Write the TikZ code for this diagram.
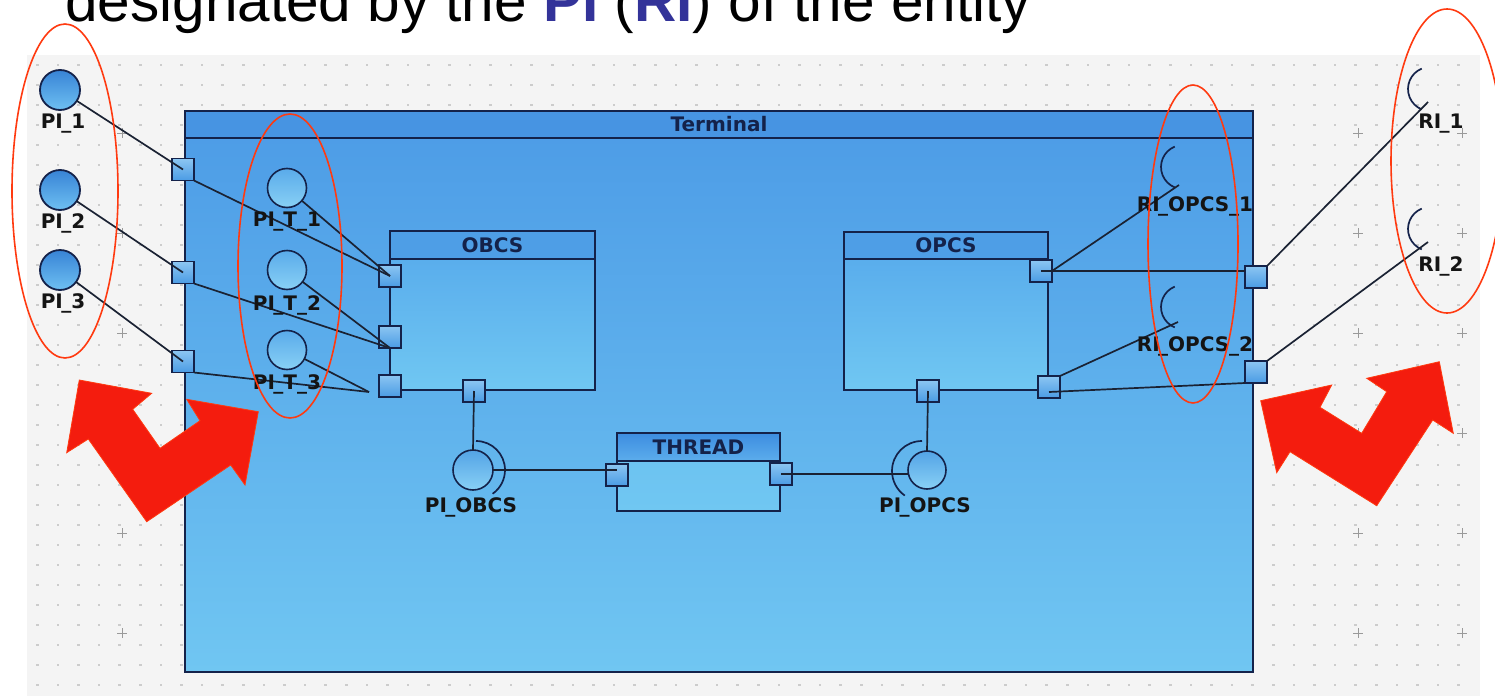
\documentclass[tikz,border=0pt]{standalone}
\usepackage{fontspec}
\setmainfont{DejaVu Sans}
\newfontfamily\titlefont{Liberation Sans}
\definecolor{panel}{HTML}{F4F4F4}
\definecolor{navy}{HTML}{14224A}
\definecolor{wirec}{HTML}{1A2233}
\definecolor{hdr}{HTML}{4794E2}
\definecolor{termtop}{HTML}{4C9BE6}
\definecolor{termbot}{HTML}{70C6F2}
\definecolor{boxhdr}{HTML}{4E9EE6}
\definecolor{boxtop}{HTML}{55A8EB}
\definecolor{boxbot}{HTML}{70C7F2}
\definecolor{thrtop}{HTML}{3D8DE0}
\definecolor{thrbot}{HTML}{5CADEC}
\definecolor{porttop}{HTML}{8CC6F2}
\definecolor{portbot}{HTML}{4A9BE4}
\definecolor{pltop}{HTML}{3884D6}
\definecolor{plbot}{HTML}{6EC0F2}
\definecolor{plttop}{HTML}{5AABEA}
\definecolor{pltbot}{HTML}{88D0F5}
\definecolor{redarrow}{HTML}{F41C0E}
\definecolor{redline}{HTML}{FF3A10}
\definecolor{piblue}{HTML}{333399}
\definecolor{dotc}{HTML}{CCCCCC}
\definecolor{plusc}{HTML}{9A9A9A}
\newcommand{\Iu}{I\kern-1.6pt\_}
\tikzset{
  lbl/.style={font=\fontsize{20pt}{21pt}\selectfont\bfseries, text=black!92, inner sep=0pt},
  hlbl/.style={font=\fontsize{20pt}{21pt}\selectfont\bfseries, text=navy, inner sep=0pt},
  port/.style={draw=navy, line width=1.6pt, minimum size=22pt, inner sep=0pt, outer sep=0pt, top color=porttop, bottom color=portbot},
  plc/.style={circle, draw=navy, line width=1.8pt, minimum size=40pt, inner sep=0pt, outer sep=0pt, top color=pltop, bottom color=plbot},
  pltc/.style={circle, draw=navy, line width=1.6pt, minimum size=39pt, inner sep=0pt, outer sep=0pt, top color=plttop, bottom color=pltbot},
  cbox/.style={draw=navy, line width=1.8pt, inner sep=0pt, outer sep=0pt, top color=boxtop, bottom color=boxbot},
  wire/.style={draw=wirec, line width=1.7pt},
  iarc/.style={draw=navy, line width=1.7pt},
  redell/.style={draw=redline, line width=1.6pt},
  redarr/.style={fill=redarrow, draw=redline, line width=0.8pt, line join=miter},
}
\begin{document}
\begin{tikzpicture}[x=1pt,y=-1pt]
\clip (0,0) rectangle (1495,696);
\fill[white] (0,0) rectangle (1495,696);
% grid panel
\fill[panel] (27,55) rectangle (1480,696);
\foreach \i in {0,...,69} {
  \foreach \j in {0,...,31} {
    \fill[dotc] ({36+20.6*\i},{64+20*\j}) rectangle ++(2.6,1.5);
  }
}
\foreach \px in {122,1358,1462} {
  \foreach \py in {133,233,333,433,533,633} {
    \draw[plusc, line width=0.7pt] (\px-5,\py) -- (\px+5,\py) (\px,\py-5) -- (\px,\py+5);
  }
}
% Terminal
\node[cbox, top color=termtop, bottom color=termbot, minimum width=1068pt, minimum height=561pt] (terminal) at (719,391.5) {};
\filldraw[fill=hdr, draw=navy, line width=1.8pt] (terminal.north west) rectangle ([yshift=-27pt]terminal.north east);
\node[hlbl] (terminallbl) at ([yshift=-13.5pt]terminal.north) {Terminal};
% OBCS
\node[cbox, minimum width=205pt, minimum height=159pt] (obcs) at (492.5,310.5) {};
\filldraw[fill=boxhdr, draw=navy, line width=1.8pt] (obcs.north west) rectangle ([yshift=-28pt]obcs.north east);
\node[hlbl] (obcslbl) at ([yshift=-14pt]obcs.north) {OBCS};
% OPCS
\node[cbox, minimum width=204pt, minimum height=158pt] (opcs) at (946,311) {};
\filldraw[fill=boxhdr, draw=navy, line width=1.8pt] (opcs.north west) rectangle ([yshift=-27pt]opcs.north east);
\node[hlbl] (opcslbl) at ([yshift=-13.5pt]opcs.north) {OPCS};
% THREAD
\node[cbox, top color=boxbot!80!boxtop, bottom color=boxbot, minimum width=163pt, minimum height=78pt] (thread) at (698.5,472) {};
\shade[top color=thrtop, bottom color=thrbot] (thread.north west) rectangle ([yshift=-28pt]thread.north east);
\draw[navy, line width=1.8pt] (thread.north west) rectangle ([yshift=-28pt]thread.north east);
\node[hlbl] (threadlbl) at ([yshift=-14pt]thread.north) {THREAD};
% provided interfaces (left)
\node[plc] (pl1) at (60,90) {};
\node[plc] (pl2) at (60,190) {};
\node[plc] (pl3) at (60,270) {};
\node[pltc] (plt1) at (287,188) {};
\node[pltc] (plt2) at (287,270) {};
\node[pltc] (plt3) at (287,350) {};
% PI_OBCS and PI_OPCS
\node[pltc, minimum size=40pt, top color=plttop!80!pltop] (plobcs) at (473,470) {};
\node[pltc, minimum size=38pt, top color=plttop!80!pltop] (plopcs) at (927,470) {};
\coordinate (obring) at (476,470);
\coordinate (opring) at (922,471);
\draw[iarc] ([shift={(90:29pt)}]obring) arc[start angle=90, end angle=-55, radius=29pt];
\draw[iarc] ([shift={(90:30pt)}]opring) arc[start angle=90, end angle=235, radius=30pt];
% required interfaces
\coordinate (ro1c) at (1183,167);
\coordinate (ro2c) at (1183,307);
\coordinate (ri1c) at (1430,89);
\coordinate (ri2c) at (1430,229);
\foreach \c in {ro1c,ro2c,ri1c,ri2c} {
  \draw[iarc] ([shift={(112:22pt)}]\c) arc[start angle=112, end angle=248, radius=22pt];
}
\coordinate (ro1e) at (1179,185);
\coordinate (ro2e) at (1178,322);
\coordinate (ri1e) at (1428,102);
\coordinate (ri2e) at (1428,242);
\coordinate (j3) at (369,392);
% ports
\node[port] (tp1) at (183,169.5) {};
\node[port] (tp2) at (183,272.5) {};
\node[port] (tp3) at (183,361.5) {};
\node[port] (obp1) at (390,276) {};
\node[port] (obp2) at (390,337) {};
\node[port] (obp3) at (390,386) {};
\node[port] (obp4) at (474,391) {};
\node[port] (opp1) at (1041,271) {};
\node[port] (opp2) at (1049,387) {};
\node[port] (opp3) at (928,391) {};
\node[port] (trp1) at (1256,277) {};
\node[port] (trp2) at (1256,372) {};
\node[port] (thr1) at (617,475) {};
\node[port] (thr2) at (781,474) {};
% connectors
\draw[wire] (pl1) -- (tp1.center);
\draw[wire] (tp1.south east) -- (obp1.center);
\draw[wire] (pl2) -- (tp2.center);
\draw[wire] (tp2.south east) -- (obp2.south);
\draw[wire] (pl3) -- (tp3.center);
\draw[wire] (tp3.south east) -- (j3);
\draw[wire] (plt1) -- (obp1.center);
\draw[wire] (plt2) -- (obp2.south);
\draw[wire] (plt3) -- (j3);
\draw[wire] (obp4.center) -- (plobcs.north);
\draw[wire] (plobcs.east) -- (plobcs.east -| thr1.center);
\draw[wire] (opp3.center) -- (plopcs.north);
\draw[wire] (thr2.center) -- (thr2.center -| plopcs.west);
\draw[wire] (opp1.center) -- (opp1.center -| trp1.west);
\draw[wire] (opp1.east) -- (ro1e);
\draw[wire] (opp2.north east) -- (ro2e);
\draw[wire] ([yshift=-5pt]opp2.center) -- (trp2.south west);
\draw[wire] (trp1.north east) -- (ri1e);
\draw[wire] (trp2.north east) -- (ri2e);
% labels
\node[lbl] (pl1l) at (63,124) {P\Iu1};
\node[lbl] (pl2l) at (63,223) {P\Iu2};
\node[lbl] (pl3l) at (63,303) {P\Iu3};
\node[lbl] (plt1l) at (287,222) {P\Iu T\_1};
\node[lbl] (plt2l) at (287,305) {P\Iu T\_2};
\node[lbl] (plt3l) at (287,384) {P\Iu T\_3};
\node[lbl] (plobcsl) at (471,507) {P\Iu OBCS};
\node[lbl] (plopcsl) at (925,507) {P\Iu OPCS};
\node[lbl] (ro1l) at (1195,206) {R\Iu OPCS\_1};
\node[lbl] (ro2l) at (1195,346) {R\Iu OPCS\_2};
\node[lbl] (ri1l) at (1441,124) {R\Iu1};
\node[lbl] (ri2l) at (1441,266) {R\Iu2};
% red ellipses
\draw[redell] (65,191) ellipse[x radius=53pt, y radius=167pt];
\draw[redell] (290,266) ellipse[x radius=52pt, y radius=152pt];
\draw[redell] (1193,244) ellipse[x radius=45pt, y radius=159pt];
\draw[redell] (1447,161) ellipse[x radius=56pt, y radius=152pt];
% red double arrows
\filldraw[redarr] (79.3,380) -- (151.7,393.3) -- (132.7,409.3) -- (160,448.3) -- (200,420.7) -- (186.7,399.3) -- (258.3,411.7) -- (245,485) -- (230.7,465) -- (146.7,521.7) -- (88.3,439) -- (66.7,452.7) -- cycle;
\filldraw[redarr] (1260.7,400.7) -- (1331.7,385) -- (1320,407.3) -- (1361.7,433.3) -- (1386.7,391.7) -- (1366.7,378.3) -- (1439.3,361.7) -- (1453.3,433.3) -- (1432.7,420) -- (1376.7,505.7) -- (1290,451.7) -- (1276.7,472.7) -- cycle;
% title
\node[anchor=base west, inner sep=0pt, font=\titlefont\fontsize{58.5pt}{60pt}\selectfont] (title) at (65,21) {designated by the \textbf{\color{piblue}PI} (\textbf{\color{piblue}RI}) of the entity};
\end{tikzpicture}
\end{document}
